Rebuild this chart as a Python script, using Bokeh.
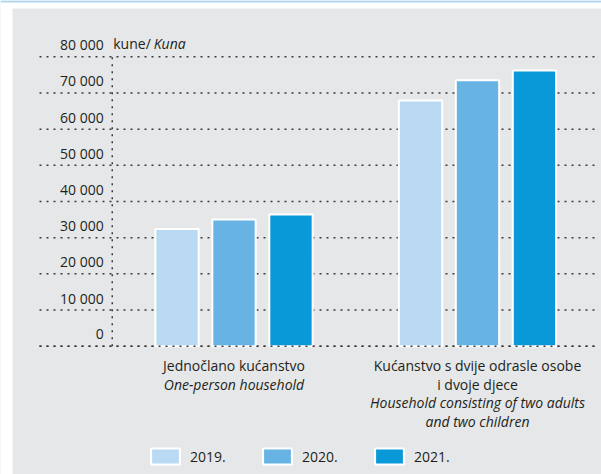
from bokeh.plotting import figure
from bokeh.models import Range1d, ColumnDataSource, Legend, LegendItem, BoxAnnotation
from bokeh.core.properties import value
from bokeh.embed import file_html
from bokeh.resources import INLINE

# ---- data ----
years = ["2019.", "2020.", "2021."]
v2019 = [32400, 67900]
v2020 = [35000, 73500]
v2021 = [36400, 76200]
ticks = [0, 10000, 20000, 30000, 40000, 50000, 60000, 70000, 80000]
tick_labels = ["0", "10 000", "20 000", "30 000", "40 000", "50 000", "60 000", "70 000", "80 000"]
cat_lines = [
    ["Jednočlano kućanstvo", "One-person household"],
    ["Kućanstvo s dvije odrasle osobe", "i dvoje djece", "Household consisting of two adults", "and two children"],
]
cat_styles = [
    ["normal", "italic"],
    ["normal", "normal", "italic", "italic"],
]
unit_hr = "kune/"
unit_en = "Kuna"

# ---- style / layout ----
colors = ["#B9DAF2", "#67B3E4", "#0999D9"]
bg = "#E6E7E8"
txt = "#231F20"
dot = "#3A3A3A"
top_line = "#AFD5F0"
font = "Open Sans"
fs = "14px"
offsets = [-0.234, 0.0, 0.234]
bar_w = 0.178
axis_x = -0.5

W, H = 601, 474
px_x = 243.5          # pixels per x unit
px_y = 0.0036175      # pixels per y unit
x_start, x_end = -233.5 / px_x, (W - 233.5) / px_x
y_end, y_start = 345.7 / px_y, -(H - 345.7) / px_y
grid_l, grid_r = (39 - 233.5) / px_x, (597 - 233.5) / px_x

p = figure(width=W, height=H, output_backend="svg", toolbar_location=None,
           x_range=Range1d(x_start, x_end), y_range=Range1d(y_start, y_end),
           min_border_left=0, min_border_right=0, min_border_top=0, min_border_bottom=0)
p.axis.visible = False
p.grid.visible = False
p.outline_line_color = None
p.background_fill_color = bg
p.border_fill_color = bg

# white frame strips and thin blue rule at top
p.add_layout(BoxAnnotation(left=x_start, right=x_end, bottom=y_end - 8 / px_y, top=y_end,
                           fill_color="white", fill_alpha=1, line_alpha=0))
p.add_layout(BoxAnnotation(left=x_start, right=x_start + 12 / px_x, bottom=y_start, top=y_end,
                           fill_color="white", fill_alpha=1, line_alpha=0))
p.add_layout(BoxAnnotation(left=x_start, right=x_end, bottom=y_end - 2 / px_y, top=y_end,
                           fill_color=top_line, fill_alpha=1, line_alpha=0))

xs = list(range(len(v2019)))

# gridlines
p.segment(x0=[grid_l] * len(ticks), x1=[grid_r] * len(ticks), y0=ticks, y1=ticks,
          line_color=dot, line_width=1.5, line_dash="2 5")
# vertical axis line
p.segment(x0=[axis_x], x1=[axis_x], y0=[ticks[0]], y1=[ticks[-1]],
          line_color=dot, line_width=1.5, line_dash="2 5")

renderers = []
for vals, off, c in zip([v2019, v2020, v2021], offsets, colors):
    src = ColumnDataSource(dict(x=[x + off for x in xs], top=vals))
    r = p.vbar(x="x", top="top", bottom=0, width=bar_w, source=src,
               fill_color=c, line_color="white", line_width=2)
    renderers.append(r)

# zero line on top
p.segment(x0=[grid_l], x1=[grid_r], y0=[ticks[0]], y1=[ticks[0]],
          line_color=dot, line_width=1.5, line_dash="2 5")

# tick labels
p.text(x=[axis_x] * len(ticks), y=ticks, text=tick_labels, x_offset=-8.5, y_offset=-12,
       text_align="right", text_baseline="middle", text_font=value(font),
       text_font_size=fs, text_color=txt)
# unit label
p.text(x=[axis_x], y=[ticks[-1]], text=[unit_hr], x_offset=1, y_offset=-13,
       text_align="left", text_baseline="middle", text_font=value(font),
       text_font_size=fs, text_color=txt)
p.text(x=[axis_x], y=[ticks[-1]], text=[unit_en], x_offset=41.5, y_offset=-13,
       text_align="left", text_baseline="middle", text_font=value(font),
       text_font_size=fs, text_color=txt, text_font_style="italic")

# category labels
for gi, (lines, styles) in enumerate(zip(cat_lines, cat_styles)):
    for k, (ln, st) in enumerate(zip(lines, styles)):
        p.text(x=[xs[gi]], y=[0], text=[ln], y_offset=19.3 + 18.5 * k,
               text_align="center", text_baseline="middle", text_font=value(font),
               text_font_size=fs, text_color=txt, text_font_style=st)

legend = Legend(items=[LegendItem(label=y, renderers=[r]) for y, r in zip(years, renderers)],
                orientation="horizontal", location=(147, 8),
                background_fill_alpha=0, border_line_alpha=0, padding=0, margin=0,
                spacing=9, glyph_width=36, glyph_height=20, label_standoff=7,
                label_width=60, label_text_font=font, label_text_font_size=fs,
                label_text_color=txt)
p.add_layout(legend)

open("out.html", "w").write(file_html(p, INLINE))
